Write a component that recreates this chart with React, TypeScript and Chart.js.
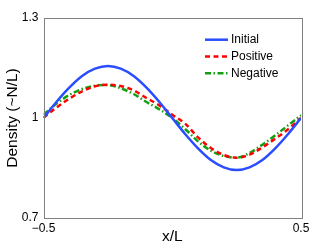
import React, { useEffect, useRef } from "react";
import { Chart, registerables } from "chart.js";

Chart.register(...registerables);

const xPositions = [-0.5, -0.45, -0.4, -0.35, -0.3, -0.25, -0.2, -0.15, -0.1, -0.05, 0, 0.05, 0.1, 0.15, 0.2, 0.25, 0.3, 0.35, 0.4, 0.45, 0.5];
const initialValues = [1.0, 1.048, 1.091, 1.126, 1.148, 1.156, 1.148, 1.126, 1.091, 1.048, 1.0, 0.952, 0.909, 0.874, 0.852, 0.844, 0.852, 0.874, 0.909, 0.952, 1.0];
const positiveValues = [1.001, 1.031, 1.058, 1.08, 1.095, 1.1, 1.096, 1.083, 1.06, 1.038, 1.01, 0.983, 0.942, 0.91, 0.889, 0.881, 0.89, 0.912, 0.938, 0.966, 1.0];
const negativeValues = [1.01, 1.043, 1.069, 1.087, 1.097, 1.099, 1.089, 1.072, 1.048, 1.026, 1.0, 0.967, 0.93, 0.902, 0.886, 0.881, 0.895, 0.92, 0.948, 0.978, 1.008];
const seriesNames = ["Initial", "Positive", "Negative"];
const xTickValues = [-0.5, 0.5];
const xTickLabels = ["\u22120.5", "0.5"];
const yTickValues = [0.7, 1, 1.3];
const yTickLabels = ["0.7", "1", "1.3"];

const FONT = "'Liberation Sans', Arial, Helvetica, sans-serif";

export default function App() {
  const ref = useRef<HTMLCanvasElement | null>(null);
  useEffect(() => {
    if (!ref.current) return;
    const styles = [
      { color: "#2a4dff", dash: [] as number[] },
      { color: "#ff0000", dash: [5, 3.5] },
      { color: "#12a012", dash: [6, 2.5, 1.5, 2.5] },
    ];
    const all = [initialValues, positiveValues, negativeValues];
    const boxPlugin = {
      id: "boxAndLegend",
      afterDraw(chart: any) {
        const { ctx, chartArea: a } = chart;
        ctx.save();
        ctx.strokeStyle = "#808080";
        ctx.lineWidth = 1;
        ctx.setLineDash([]);
        ctx.strokeRect(Math.round(a.left) + 0.5, Math.round(a.top) + 0.5, Math.round(a.right - a.left), Math.round(a.bottom - a.top));
        // legend
        ctx.font = `12px ${FONT}`;
        ctx.textBaseline = "middle";
        ctx.fillStyle = "#000";
        seriesNames.forEach((name, i) => {
          const y = a.top + 21.7 + i * 16.8;
          ctx.beginPath();
          ctx.strokeStyle = styles[i].color;
          ctx.lineWidth = 2.5;
          ctx.setLineDash(styles[i].dash);
          ctx.moveTo(a.right - 96, y);
          ctx.lineTo(a.right - 73, y);
          ctx.stroke();
          ctx.setLineDash([]);
          ctx.fillText(name, a.right - 70, y);
        });
        ctx.restore();
      },
    };
    const chart = new Chart(ref.current, {
      type: "line",
      data: {
        datasets: all.map((vals, i) => ({
          label: seriesNames[i],
          data: xPositions.map((x, j) => ({ x, y: vals[j] })),
          borderColor: styles[i].color,
          borderDash: styles[i].dash,
          borderWidth: 2.5,
          pointRadius: 0,
          fill: false,
          cubicInterpolationMode: "monotone" as const,
        })),
      },
      options: {
        animation: false,
        responsive: false,
        layout: { padding: { top: 18, right: 31, left: 0, bottom: 0 } },
        plugins: { legend: { display: false }, tooltip: { enabled: false } },
        scales: {
          x: {
            type: "linear",
            min: -0.5,
            max: 0.5,
            grid: { display: false, drawTicks: false },
            border: { display: false },
            afterBuildTicks: (s: any) => {
              s.ticks = xTickValues.map((v) => ({ value: v }));
            },
            afterFit: (s: any) => {
              s.height = 28;
            },
            ticks: {
              padding: 3,
              maxRotation: 0,
              autoSkip: false,
              color: "#000",
              font: { family: FONT, size: 12 },
              callback: (v: any) => xTickLabels[xTickValues.indexOf(Number(v))] ?? "",
            },
            title: {
              display: true,
              text: "x/L",
              color: "#000",
              font: { family: FONT, size: 15.5 },
              padding: { top: 0, bottom: 0 },
            },
          },
          y: {
            type: "linear",
            min: 0.7,
            max: 1.3,
            grid: { display: false, drawTicks: false },
            border: { display: false },
            afterBuildTicks: (s: any) => {
              s.ticks = yTickValues.map((v) => ({ value: v }));
            },
            afterFit: (s: any) => {
              s.width = 43.5;
            },
            ticks: {
              padding: 5,
              autoSkip: false,
              color: "#000",
              font: { family: FONT, size: 12 },
              callback: (v: any) => {
                const idx = yTickValues.findIndex((t) => Math.abs(t - Number(v)) < 1e-9);
                return idx >= 0 ? yTickLabels[idx] : "";
              },
            },
            title: {
              display: true,
              text: "Density (~N/L)",
              color: "#000",
              font: { family: FONT, size: 15.5 },
              padding: { top: 3, bottom: 0 },
            },
          },
        },
      },
      plugins: [boxPlugin],
    });
    return () => chart.destroy();
  }, []);
  return (
    <div style={{ position: "fixed", left: 0, top: 0, width: 332, height: 246, background: "#fff" }}>
      <canvas ref={ref} width={332} height={246} />
    </div>
  );
}
